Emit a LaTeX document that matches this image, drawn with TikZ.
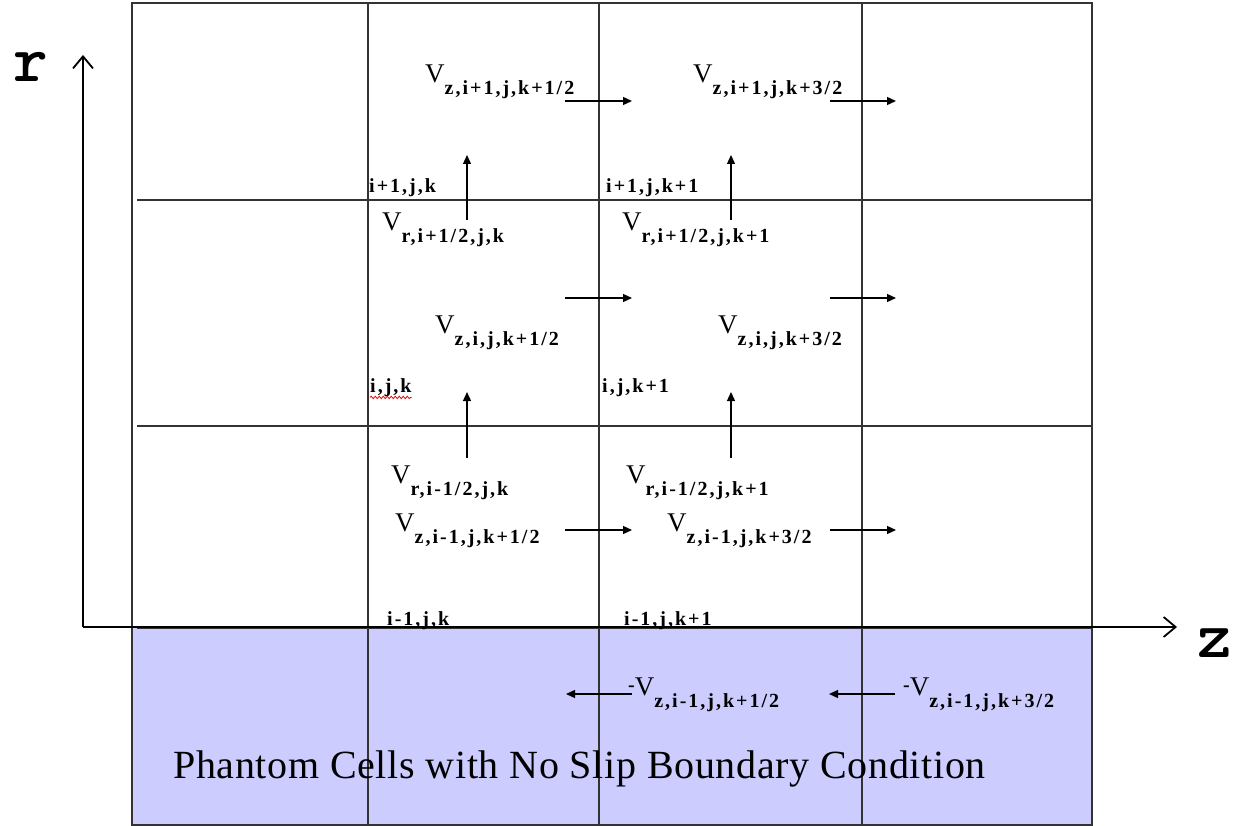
\documentclass[tikz,border=0pt]{standalone}
\usepackage{fontspec}
\setmainfont{Liberation Serif}
\newfontfamily\subfont{Liberation Serif}[LetterSpace=10]
\newfontfamily\capfont{Liberation Serif}[LetterSpace=1.7]
\usetikzlibrary{arrows.meta,decorations.pathmorphing}
\definecolor{phantom}{RGB}{204,204,255}
\newcommand{\vlab}[1]{{\fontsize{27}{27}\selectfont V}\raisebox{-12pt}{\subfont\bfseries\fontsize{20}{20}\selectfont #1}}
\newcommand{\nvlab}[1]{\raisebox{4pt}{\subfont\bfseries\fontsize{20}{20}\selectfont -}\vlab{#1}}
\begin{document}
\begin{tikzpicture}[x=1pt,y=-1pt,
  grid/.style={line width=1.3pt, draw=black!80},
  vec/.style={line width=1.3pt, -{Triangle[length=9pt,width=8pt]}},
  axis/.style={line width=1.2pt, -{Straight Barb[length=12pt,width=20pt,line width=1.8pt]}},
  lab/.style={anchor=base west, inner sep=0pt, font=\subfont\bfseries\fontsize{20}{20}\selectfont},
  vel/.style={anchor=base west, inner sep=0pt},
  axlab/.style={anchor=base, inner sep=0pt, font=\ttfamily\bfseries\fontsize{66}{66}\selectfont}]
\useasboundingbox (0,0) rectangle (1238,826);
% phantom region
\fill[phantom] (132,627) rectangle (1092,825);
% grid
\draw[grid] (132,3) rectangle (1092,825);
\draw[grid] (368,3) -- (368,825);
\draw[grid] (599,3) -- (599,825);
\draw[grid] (862,3) -- (862,825);
\draw[grid] (137,200) -- (1092,200);
\draw[grid] (137,426) -- (1092,426);
\draw[grid] (137,628) -- (1092,628);
% axes
\coordinate (O) at (83,627);
\coordinate (rtip) at (83,55);
\coordinate (ztip) at (1177,627);
\draw[axis] (O) -- (rtip);
\draw[axis] (O) -- (ztip);
\node[axlab] (rlab) at (31,82) {r};
\node[axlab] (zlab) at (1215,657) {z};
% cell labels
\node[lab] (c1) at (369,193) {i+1,j,k};
\node[lab] (c2) at (606,193) {i+1,j,k+1};
\node[lab] (c3) at (370,392) {i,j,k};
\node[lab] (c4) at (602,392) {i,j,k+1};
\node[lab] (c5) at (387,625) {i-1,j,k};
\node[lab] (c6) at (624,625) {i-1,j,k+1};
\draw[red, line width=0.8pt, decorate, decoration={snake, amplitude=1.2pt, segment length=4pt}] (c3.south west) ++(0,1) coordinate (sq1) -- (c3.south east |- sq1) coordinate (sq2);
% velocity labels
\node[vel] (v1) at (425,83) {\vlab{z,i+1,j,k+1/2}};
\node[vel] (v2) at (693,83) {\vlab{z,i+1,j,k+3/2}};
\node[vel] (v3) at (382,231) {\vlab{r,i+1/2,j,k}};
\node[vel] (v4) at (622,231) {\vlab{r,i+1/2,j,k+1}};
\node[vel] (v5) at (435,333) {\vlab{z,i,j,k+1/2}};
\node[vel] (v6) at (718,333) {\vlab{z,i,j,k+3/2}};
\node[vel] (v7) at (391,483) {\vlab{r,i-1/2,j,k}};
\node[vel] (v8) at (626,483) {\vlab{r,i-1/2,j,k+1}};
\node[vel] (v9) at (395,531) {\vlab{z,i-1,j,k+1/2}};
\node[vel] (v10) at (667,531) {\vlab{z,i-1,j,k+3/2}};
\node[vel] (v11) at (628,695) {\nvlab{z,i-1,j,k+1/2}};
\node[vel] (v12) at (903,695) {\nvlab{z,i-1,j,k+3/2}};
% vector arrows: z-direction
\coordinate (a1s) at (565,101); \coordinate (a1e) at (632,101);
\coordinate (a2s) at (830,101); \coordinate (a2e) at (896,101);
\coordinate (a3s) at (565,298); \coordinate (a3e) at (632,298);
\coordinate (a4s) at (830,298); \coordinate (a4e) at (896,298);
\coordinate (a5s) at (565,530); \coordinate (a5e) at (632,530);
\coordinate (a6s) at (830,530); \coordinate (a6e) at (896,530);
\coordinate (a7s) at (632,694); \coordinate (a7e) at (566,694);
\coordinate (a8s) at (895,694); \coordinate (a8e) at (829,694);
\foreach \i in {1,...,8} \draw[vec] (a\i s) -- (a\i e);
% vector arrows: r-direction
\coordinate (b1s) at (467,220); \coordinate (b1e) at (467,155);
\coordinate (b2s) at (731,220); \coordinate (b2e) at (731,155);
\coordinate (b3s) at (467,458); \coordinate (b3e) at (467,392);
\coordinate (b4s) at (731,458); \coordinate (b4e) at (731,392);
\foreach \i in {1,...,4} \draw[vec] (b\i s) -- (b\i e);
% caption
\node[anchor=base west, inner sep=0pt, font=\capfont\fontsize{40}{40}\selectfont] (cap) at (173,778) {Phantom Cells with No Slip Boundary Condition};
\end{tikzpicture}
\end{document}
